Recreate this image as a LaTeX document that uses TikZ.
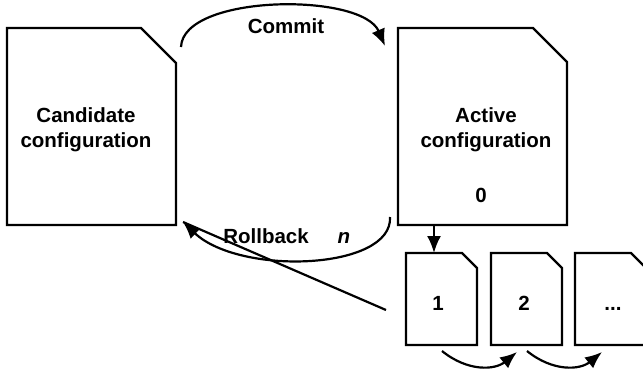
\documentclass[tikz,border=0pt]{standalone}
\usepackage{fontspec}
\setmainfont{Liberation Sans}
\usetikzlibrary{arrows.meta}

% dog-eared document outline around a named (empty) node
\newcommand\foldeddoc[2]{%
  \draw[docline] (#1.south west) -- (#1.north west)
    -- ([xshift=-#2pt]#1.north east) -- ([yshift=-#2pt]#1.north east)
    -- (#1.south east) -- cycle;}

\begin{document}
\begin{tikzpicture}[x=1pt,y=-1pt,
  docline/.style={line width=2.2pt, line join=miter, black},
  docframe/.style={inner sep=0pt, outer sep=0pt},
  bigdoc/.style={docframe, minimum width=169pt, minimum height=197pt},
  smalldoc/.style={docframe, minimum width=71pt, minimum height=92pt},
  lbl/.style={font=\bfseries\fontsize{20.5}{25}\selectfont, anchor=base, inner sep=0pt},
  conn/.style={line width=2.2pt, -{Latex[length=17pt,width=14pt]}}]
  \useasboundingbox (0,0) rectangle (643,368);
  \begin{scope}
  \clip (0,0) rectangle (643,368);

  % documents
  \node[bigdoc] (cand) at (91.5,126.5) {};
  \node[bigdoc] (act) at (482.5,126.5) {};
  \node[smalldoc] (d1) at (441.5,299) {};
  \node[smalldoc] (d2) at (526.5,299) {};
  \node[smalldoc] (d3) at (610.5,299) {};
  \foldeddoc{cand}{35}
  \foldeddoc{act}{34}
  \foldeddoc{d1}{15}
  \foldeddoc{d2}{15}
  \foldeddoc{d3}{15}

  % texts
  \node[lbl] (candA) at (86,122) {Candidate};
  \node[lbl] (candB) at (86,147) {configuration};
  \node[lbl] (actA) at (486,122) {Active};
  \node[lbl] (actB) at (486,147) {configuration};
  \node[lbl] (v0) at (481,202) {0};
  \node[lbl] (v1) at (438,310) {1};
  \node[lbl] (v2) at (524,310) {2};
  \node[lbl] (v3) at (613,310) {...};
  \node[lbl] (cmt) at (286,33) {Commit};
  \node[lbl] (rb) at (266,243) {Rollback};
  \node[lbl] (rbn) at (344,243) {\itshape n};

  % connector ends
  \coordinate (cstart) at (181,47);
  \coordinate (cend) at (385,46);
  \coordinate (rstart) at (390,217);
  \coordinate (rend) at (183,222);
  \coordinate (tail) at (386,310);
  \coordinate (drop) at (434,0);

  % commit and rollback
  \draw[conn] (cstart) .. controls (183,-6) and (362,-8) .. (cend);
  \draw[conn] (rstart) .. controls (393,270) and (240,276) .. (rend);
  \draw[line width=2.2pt] (tail) -- (rend);

  % history chain
  \draw[conn] (act.south -| drop) -- (d1.north -| drop);
  \draw[conn] (442,351) .. controls (468,372) and (495,370) .. (517,352);
  \draw[conn] (527,351) .. controls (553,372) and (580,370) .. (602,352);
  \end{scope}
\end{tikzpicture}
\end{document}
